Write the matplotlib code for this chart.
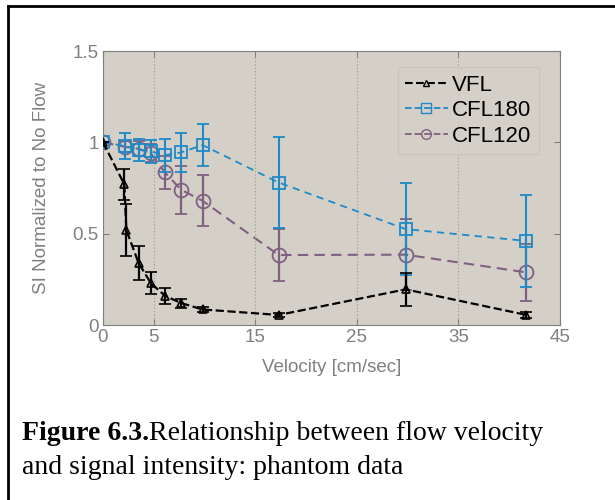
import matplotlib.pyplot as plt
from matplotlib.lines import Line2D

# velocity [cm/sec]
vfl_x = [0, 2.1, 2.3, 3.5, 4.7, 6.1, 7.7, 9.8, 17.3, 29.8, 41.7]
vfl_y = [1.0, 0.77, 0.52, 0.34, 0.23, 0.16, 0.12, 0.085, 0.055, 0.195, 0.055]
vfl_err = [0, 0.085, 0.14, 0.095, 0.06, 0.045, 0.025, 0.012, 0.01, 0.09, 0.015]

cfl_x = [0, 2.2, 3.5, 4.7, 6.1, 7.7, 9.8, 17.3, 29.8, 41.7]
cfl180_y = [1.0, 0.98, 0.96, 0.95, 0.93, 0.945, 0.985, 0.78, 0.525, 0.46]
cfl180_err = [0, 0.07, 0.06, 0.065, 0.09, 0.105, 0.115, 0.25, 0.25, 0.25]
cfl120_y = [1.0, 0.975, 0.965, 0.94, 0.835, 0.74, 0.68, 0.383, 0.385, 0.288]
cfl120_err = [0, 0.03, 0.04, 0.05, 0.09, 0.13, 0.14, 0.14, 0.195, 0.155]

x_ticks = [0, 5, 15, 25, 35, 45]
y_ticks = [0, 0.5, 1, 1.5]
y_tick_labels = ["0", "0.5", "1", "1.5"]

GREY = "#808080"
BG = "#d4d0c8"
BLUE = "#1e8ac8"
PURPLE = "#806080"

plt.rcParams["font.family"] = ["Liberation Sans", "DejaVu Sans"]

fig = plt.figure(figsize=(6.15, 5.0), dpi=100)
ax = fig.add_axes([103 / 615, 1 - 325 / 500, 457 / 615, 274 / 500])
ax.set_facecolor(BG)

ax.errorbar(vfl_x, vfl_y, yerr=vfl_err, color="black", ls="--", lw=1.6,
            marker="^", ms=6, mfc="none", mew=1.2, capsize=4, elinewidth=1.6,
            capthick=1.6, zorder=3)
ax.errorbar(cfl_x, cfl180_y, yerr=cfl180_err, color=BLUE, ls="--", lw=1.3,
            marker="s", ms=8, mfc="none", mew=1.3, capsize=4, elinewidth=1.5,
            capthick=1.5, dashes=(4, 3), zorder=2)
ax.errorbar(cfl_x, cfl120_y, yerr=cfl120_err, color=PURPLE, ls="--", lw=1.5,
            marker="o", ms=10, mfc="none", mew=1.3, capsize=4, elinewidth=1.6,
            capthick=1.6, dashes=(5, 3), zorder=1)

ax.set_xlim(0, 45)
ax.set_ylim(0, 1.5)
ax.set_xticks(x_ticks)
ax.set_yticks(y_ticks)
ax.set_yticklabels(y_tick_labels)
ax.tick_params(direction="in", length=4, colors=GREY, labelsize=13.5,
               top=True, right=True, labelcolor=GREY, pad=3)
ax.xaxis.grid(True, ls=(0, (1, 2)), color="#9a9890", lw=0.8)
for s in ax.spines.values():
    s.set_color(GREY)

ax.set_xlabel("Velocity [cm/sec]", color=GREY, fontsize=13.5, labelpad=9)
ax.set_ylabel("SI Normalized to No Flow", color=GREY, fontsize=13.5,
              labelpad=16)

handles = [
    Line2D([], [], color="black", ls="--", marker="^", ms=5, mfc="none", lw=1.5),
    Line2D([], [], color=BLUE, ls="--", marker="s", ms=7, mfc="none", lw=1.3),
    Line2D([], [], color=PURPLE, ls="--", marker="o", ms=7, mfc="none", lw=1.3),
]
leg = ax.legend(handles, ["VFL", "CFL180", "CFL120"], loc="upper right",
                fontsize=16, frameon=True, fancybox=False, handlelength=1.9,
                handletextpad=0.2, borderpad=0.35, labelspacing=0.2,
                borderaxespad=0, bbox_to_anchor=(539 / 457 - 103 / 457, 1 - 16 / 274))
leg.get_frame().set_facecolor(BG)
leg.get_frame().set_edgecolor("#c8c4bc")
leg.get_frame().set_linewidth(0.8)

# figure frame (left and top edges)
fig.add_artist(Line2D([8 / 615, 8 / 615], [0, 1 - 6 / 500], color="black",
                      lw=2, transform=fig.transFigure))
fig.add_artist(Line2D([8 / 615, 1], [1 - 6 / 500, 1 - 6 / 500], color="black",
                      lw=2, transform=fig.transFigure))

cap1 = fig.text(22 / 615, 1 - 434 / 500, "Figure 6.3.", fontsize=20,
                va="center", family="Liberation Serif", weight="bold")
fig.canvas.draw()
bb = cap1.get_window_extent()
x_end = bb.x1 / fig.bbox.width
fig.text(x_end, 1 - 434 / 500, "Relationship between flow velocity",
         fontsize=20, va="center", family="Liberation Serif")
fig.text(22 / 615, 1 - 468 / 500, "and signal intensity: phantom data",
         fontsize=20, va="center", family="Liberation Serif")

fig.savefig("out.png", dpi=100)
